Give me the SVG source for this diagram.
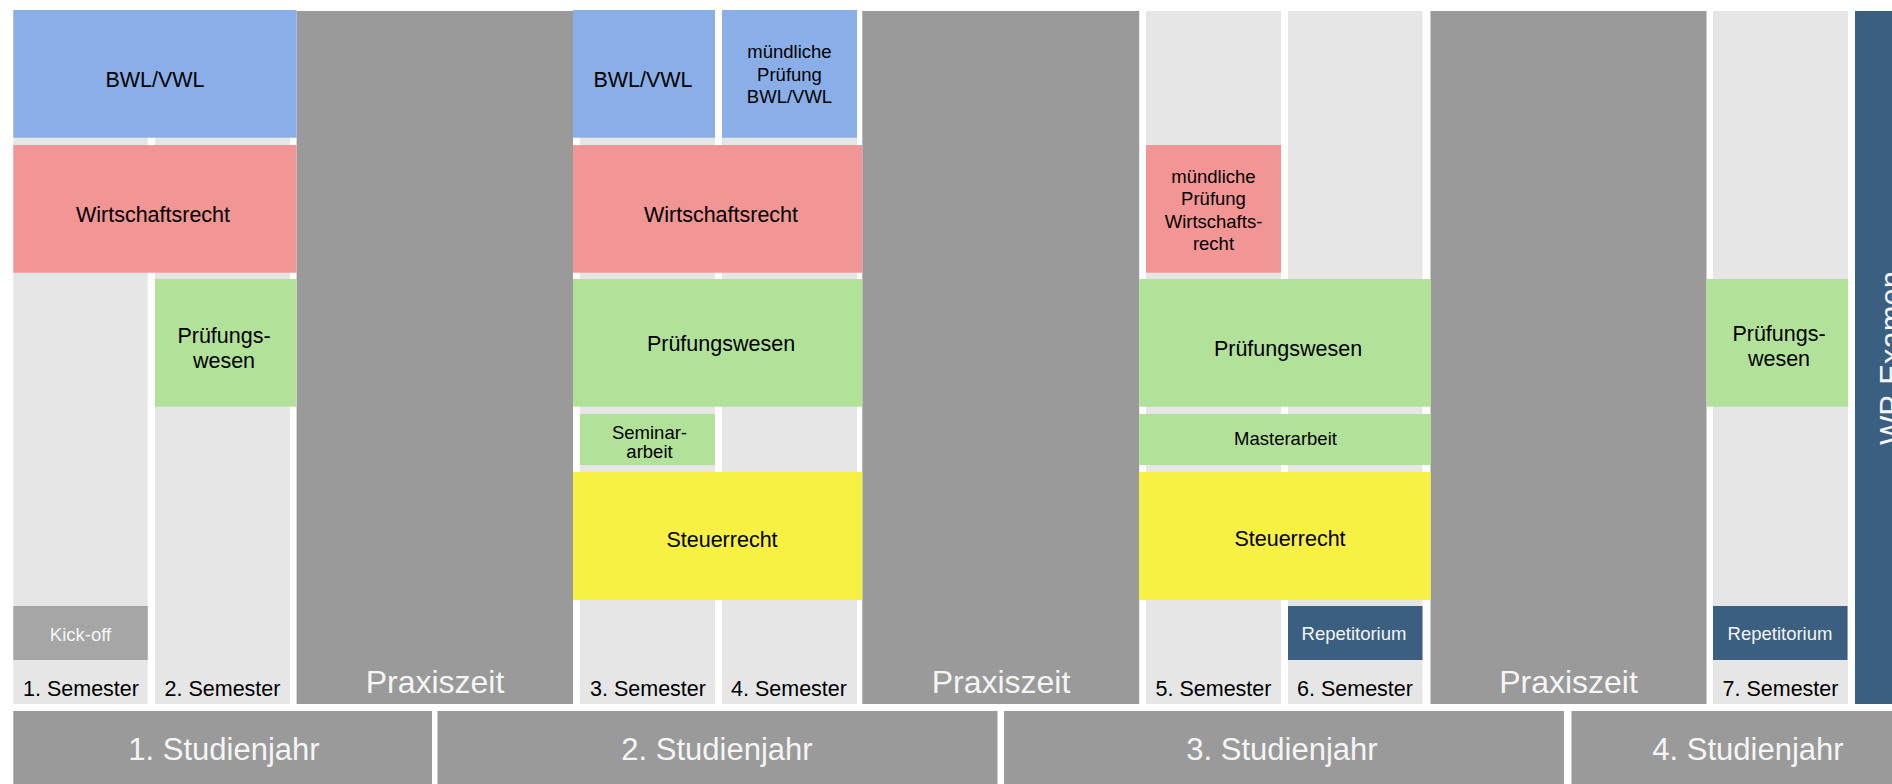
<svg xmlns="http://www.w3.org/2000/svg" width="1892" height="784" viewBox="0 0 1892 784">
<style>
text{font-family:"Liberation Sans",Arial,sans-serif;text-anchor:middle;fill:#000}
.col{fill:#E6E6E6}
.prax{fill:#9A9A9A}
.blue{fill:#8AAFE8}
.red{fill:#F29595}
.green{fill:#B2E29A}
.yellow{fill:#F7F144}
.dark{fill:#3A5F80}
.kick{fill:#A6A6A6}
.year{fill:#9A9A9A}
.w{fill:#F5F5F5}
.f32{font-size:32px}
.f31{font-size:31px}
.f21{font-size:21.5px}
.f18{font-size:18.5px}
</style>
<rect width="1892" height="784" fill="#FFFFFF"/>
<g id="columns">
<g id="sem1"><rect class="col" x="13.3" y="11" width="134.4" height="693"/><text class="f21" x="81" y="696">1. Semester</text></g>
<g id="sem2"><rect class="col" x="155" y="11" width="135" height="693"/><text class="f21" x="222.5" y="696">2. Semester</text></g>
<g id="praxis1"><rect class="prax" x="296.6" y="11" width="276.4" height="693"/><text class="f32 w" x="435" y="693">Praxiszeit</text></g>
<g id="sem3"><rect class="col" x="580" y="11" width="135" height="693"/><text class="f21" x="648" y="696">3. Semester</text></g>
<g id="sem4"><rect class="col" x="722" y="11" width="135" height="693"/><text class="f21" x="789" y="696">4. Semester</text></g>
<g id="praxis2"><rect class="prax" x="862.3" y="11" width="276.9" height="693"/><text class="f32 w" x="1001" y="693">Praxiszeit</text></g>
<g id="sem5"><rect class="col" x="1146" y="11" width="135" height="693"/><text class="f21" x="1213.5" y="696">5. Semester</text></g>
<g id="sem6"><rect class="col" x="1288" y="11" width="134.5" height="693"/><text class="f21" x="1355" y="696">6. Semester</text></g>
<g id="praxis3"><rect class="prax" x="1430.5" y="11" width="276" height="693"/><text class="f32 w" x="1568.5" y="693">Praxiszeit</text></g>
<g id="sem7"><rect class="col" x="1713" y="11" width="135" height="693"/><text class="f21" x="1780.5" y="696">7. Semester</text></g>
<g id="wpexamen"><rect class="dark" x="1855" y="11" width="37" height="693"/><text class="f31 w" transform="translate(1902,358) rotate(-90)" x="0" y="0">WP-Examen</text></g>
</g>
<g id="bwl1"><rect class="blue" x="13.3" y="10" width="283.3" height="127.7"/><text class="f21" x="155" y="87">BWL/VWL</text></g>
<g id="wr1"><rect class="red" x="13.3" y="145" width="283.3" height="127.7"/><text class="f21" x="153" y="222">Wirtschaftsrecht</text></g>
<g id="pw1"><rect class="green" x="155" y="279" width="141.6" height="127.7"/><text class="f21" x="224" y="343.3">Prüfungs-<tspan x="224" y="368.3">wesen</tspan></text></g>
<g id="kickoff"><rect class="kick" x="13.3" y="606" width="134.4" height="54"/><text class="f18 w" x="80.5" y="641">Kick-off</text></g>
<g id="bwl2"><rect class="blue" x="573" y="10" width="142" height="127.7"/><text class="f21" x="643" y="87">BWL/VWL</text></g>
<g id="mbwl"><rect class="blue" x="722" y="10" width="135" height="127.7"/><text class="f18" x="789.5" y="58.3">mündliche<tspan x="789.5" y="80.5">Prüfung</tspan><tspan x="789.5" y="102.7">BWL/VWL</tspan></text></g>
<g id="wr2"><rect class="red" x="573" y="145" width="289.3" height="127.7"/><text class="f21" x="721" y="222">Wirtschaftsrecht</text></g>
<g id="pw2"><rect class="green" x="573" y="279" width="289.3" height="127.7"/><text class="f21" x="721" y="350.7">Prüfungswesen</text></g>
<g id="seminar"><rect class="green" x="580" y="414" width="135" height="51"/><text class="f18" x="649.5" y="439.3">Seminar-<tspan x="649.5" y="457.5">arbeit</tspan></text></g>
<g id="st1"><rect class="yellow" x="573" y="472" width="289.3" height="128"/><text class="f21" x="722" y="547">Steuerrecht</text></g>
<g id="mwr"><rect class="red" x="1146" y="145" width="135" height="127.7"/><text class="f18" x="1213.5" y="182.7">mündliche<tspan x="1213.5" y="205">Prüfung</tspan><tspan x="1213.5" y="227.6">Wirtschafts-</tspan><tspan x="1213.5" y="249.5">recht</tspan></text></g>
<g id="pw3"><rect class="green" x="1139.2" y="279" width="291.8" height="127.7"/><text class="f21" x="1288" y="356">Prüfungswesen</text></g>
<g id="master"><rect class="green" x="1139.2" y="414" width="291.8" height="51"/><text class="f18" x="1285.5" y="445">Masterarbeit</text></g>
<g id="st2"><rect class="yellow" x="1139.2" y="472" width="291.3" height="128"/><text class="f21" x="1290" y="546">Steuerrecht</text></g>
<g id="rep1"><rect class="dark" x="1288" y="606" width="134.5" height="54"/><text class="f18 w" x="1354" y="640">Repetitorium</text></g>
<g id="pw4"><rect class="green" x="1706.4" y="279" width="141.8" height="127.7"/><text class="f21" x="1779" y="340.5">Prüfungs-<tspan x="1779" y="365.5">wesen</tspan></text></g>
<g id="rep2"><rect class="dark" x="1713" y="606" width="134.5" height="54"/><text class="f18 w" x="1780" y="640">Repetitorium</text></g>
<g id="years">
<g id="year1"><rect class="year" x="13.3" y="711" width="418.7" height="73"/><text class="f31 w" x="224" y="760">1. Studienjahr</text></g>
<g id="year2"><rect class="year" x="437.5" y="711" width="560" height="73"/><text class="f31 w" x="717" y="760">2. Studienjahr</text></g>
<g id="year3"><rect class="year" x="1004" y="711" width="560" height="73"/><text class="f31 w" x="1282" y="760">3. Studienjahr</text></g>
<g id="year4"><rect class="year" x="1571.5" y="711" width="320.5" height="73"/><text class="f31 w" x="1748" y="760">4. Studienjahr</text></g>
</g>
</svg>
